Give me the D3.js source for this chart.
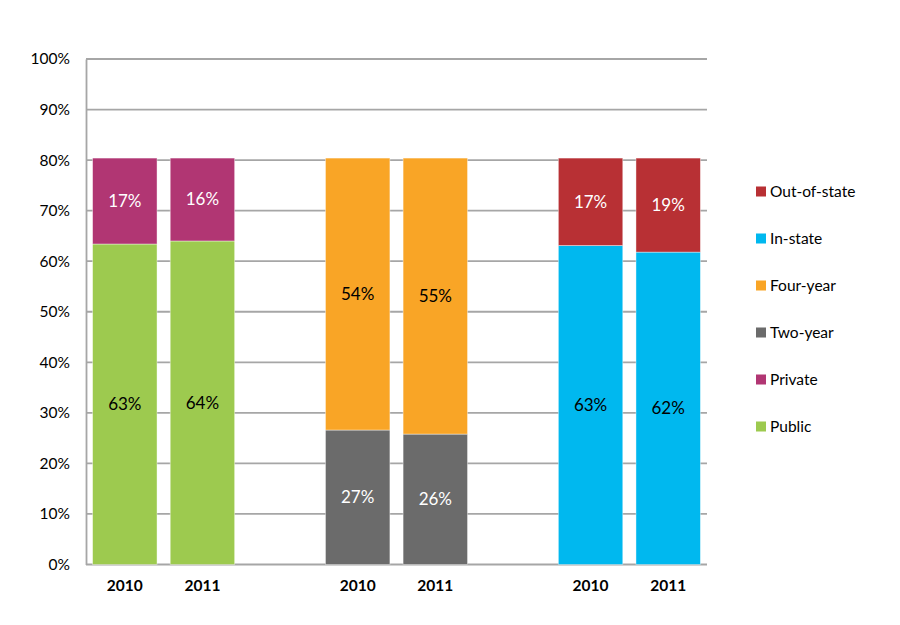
<!DOCTYPE html>
<html>
<head>
<meta charset="utf-8">
<script src="https://cdn.jsdelivr.net/npm/d3@7"></script>
<style>
  body { margin: 0; background: #fff; }
  svg { font-family: Lato, "Open Sans", sans-serif; }
</style>
</head>
<body>
<div id="chart"></div>
<script>
// categories (blank slots separate the three groups)
var categories = ['a2010', 'a2011', 'gap1', 'b2010', 'b2011', 'gap2', 'c2010', 'c2011'];
var categoryLabels = ['2010', '2011', '', '2010', '2011', '', '2010', '2011'];

// series, bottom to top
var seriesNames = ['Public', 'Private', 'Two-year', 'Four-year', 'In-state', 'Out-of-state'];
var publicVals = [63.4, 64.0, 0, 0, 0, 0, 0, 0];
var privateVals = [17.0, 16.4, 0, 0, 0, 0, 0, 0];
var twoYearVals = [0, 0, 0, 26.6, 25.8, 0, 0, 0];
var fourYearVals = [0, 0, 0, 53.8, 54.6, 0, 0, 0];
var inStateVals = [0, 0, 0, 0, 0, 0, 63.1, 61.8];
var outStateVals = [0, 0, 0, 0, 0, 0, 17.3, 18.6];

var yTicks = [0, 10, 20, 30, 40, 50, 60, 70, 80, 90, 100];

var seriesColors = ['#9dca4f', '#b13673', '#6b6b6b', '#f9a526', '#00b8ef', '#b83034'];
var labelColors = ['#000', '#fff', '#fff', '#000', '#000', '#fff'];

function init() {
    'use strict';
    var allVals = [publicVals, privateVals, twoYearVals, fourYearVals, inStateVals, outStateVals];
    var table = categories.map(function (c, i) {
        var row = { cat: c };
        seriesNames.forEach(function (s, j) { row[s] = allVals[j][i]; });
        return row;
    });

    var width = 900, height = 625;
    var left = 86, right = 707, top = 59, bottom = 564.5;

    var svg = d3.select('#chart').append('svg')
        .attr('width', width)
        .attr('height', height);

    var x = d3.scaleBand()
        .domain(categories)
        .range([left, right])
        .paddingInner(0.17)
        .paddingOuter(0.085);

    var y = d3.scaleLinear()
        .domain([0, 100])
        .range([bottom, top]);

    // gridlines
    svg.append('g')
        .selectAll('line')
        .data(yTicks)
        .enter()
        .append('line')
        .attr('x1', left)
        .attr('x2', right)
        .attr('y1', function (d) { return y(d); })
        .attr('y2', function (d) { return y(d); })
        .attr('stroke', '#a6a6a6')
        .attr('stroke-width', 1.8);

    // y axis
    var yAxis = svg.append('g')
        .attr('transform', 'translate(' + left + ',0)')
        .call(d3.axisLeft(y).tickValues(yTicks).tickSize(0).tickPadding(16)
            .tickFormat(function (d) { return d + '%'; }));
    yAxis.select('.domain').attr('stroke', '#a6a6a6').attr('stroke-width', 1.8);
    yAxis.selectAll('text')
        .attr('font-size', 15.5)
        .attr('fill', '#000')
        .style('font-family', 'Lato, sans-serif');

    // x axis labels
    var xAxis = svg.append('g')
        .attr('transform', 'translate(0,' + bottom + ')')
        .call(d3.axisBottom(x).tickSize(0).tickPadding(15)
            .tickFormat(function (d, i) { return categoryLabels[i]; }));
    xAxis.select('.domain').remove();
    xAxis.selectAll('text')
        .attr('font-size', 15.5)
        .attr('font-weight', 'bold')
        .attr('fill', '#000')
        .style('font-family', 'Lato, sans-serif');

    var stack = d3.stack().keys(seriesNames);
    var layers = stack(table);

    var groups = svg.selectAll('g.layer')
        .data(layers)
        .enter()
        .append('g')
        .attr('class', 'layer');

    groups.selectAll('rect')
        .data(function (d) { return d.filter(function (p) { return p[1] - p[0] > 0; }); })
        .enter()
        .append('rect')
        .attr('x', function (d) { return x(d.data.cat); })
        .attr('width', x.bandwidth())
        .attr('y', function (d) { return y(d[1]); })
        .attr('height', function (d) { return y(d[0]) - y(d[1]); })
        .attr('fill', function () { return seriesColors[d3.select(this.parentNode).datum().index]; })
        .attr('stroke', 'rgba(255,255,255,0.5)')
        .attr('stroke-width', 0.8);

    groups.selectAll('text')
        .data(function (d) { return d.filter(function (p) { return p[1] - p[0] > 0; }); })
        .enter()
        .append('text')
        .attr('x', function (d) { return x(d.data.cat) + x.bandwidth() / 2; })
        .attr('y', function (d) { return (y(d[0]) + y(d[1])) / 2; })
        .attr('dy', '0.35em')
        .attr('text-anchor', 'middle')
        .attr('font-size', 17)
        .attr('fill', function () { return labelColors[d3.select(this.parentNode).datum().index]; })
        .text(function (d) { return Math.round(d[1] - d[0]) + '%'; });

    // legend, top entry is last series
    var legendNames = seriesNames.slice().reverse();
    var legendColors = seriesColors.slice().reverse();
    var legend = svg.append('g')
        .selectAll('g')
        .data(legendNames)
        .enter()
        .append('g')
        .attr('transform', function (d, i) { return 'translate(756,' + (191.5 + i * 47) + ')'; });
    legend.append('rect')
        .attr('x', 0)
        .attr('y', -5)
        .attr('width', 10)
        .attr('height', 10)
        .attr('fill', function (d, i) { return legendColors[i]; });
    legend.append('text')
        .attr('x', 14)
        .attr('dy', '0.35em')
        .attr('font-size', 15.5)
        .attr('fill', '#000')
        .text(function (d) { return d; });
}

window.onload = init;
</script>
</body>
</html>
